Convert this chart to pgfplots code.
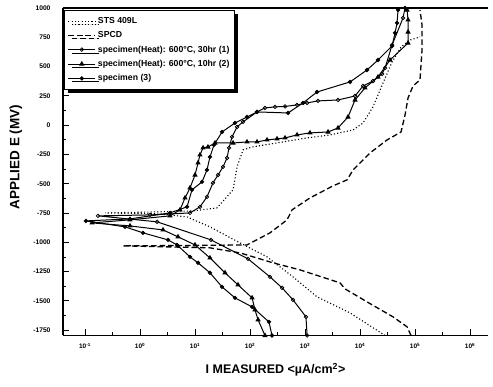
\documentclass[border=0pt]{standalone}
\usepackage{pgfplots}
\pgfplotsset{compat=1.18}
\usepackage{fontspec}
\setmainfont{Liberation Sans}
\usetikzlibrary{shadows}

\begin{document}
\begin{tikzpicture}
\begin{axis}[
  scale only axis, width=425pt, height=327.5pt,
  xmode=log, log basis x=10,
  xmin=0.0398, xmax=2.12e6, ymin=-1795, ymax=1000,
  axis x line=box, axis y line=left,
  axis line style={-, line width=1.3pt},
  tick align=inside, xtick pos=bottom, ytick pos=left,
  major tick length=6pt, minor tick length=3.5pt,
  tick style={black, line width=0.9pt},
  ytick={-1750,-1500,-1250,-1000,-750,-500,-250,0,250,500,750,1000},
  minor y tick num=1,
  xtick={0.1,1,10,100,1000,10000,100000,1000000},
  xticklabels={10\textsuperscript{-1},10\textsuperscript{0},10\textsuperscript{1},10\textsuperscript{2},10\textsuperscript{3},10\textsuperscript{4},10\textsuperscript{5},10\textsuperscript{6}},
  minor xtick={0.316,3.16,31.6,316,3162,31623,316228},
  /pgf/number format/assume math mode=true,
  /pgf/number format/set thousands separator={},
  yticklabel style={font=\fontsize{6.7}{7}\selectfont\bfseries, xshift=-9pt},
  xticklabel style={font=\fontsize{6.5}{7}\selectfont\bfseries, yshift=-4pt},
  xlabel={I MEASURED <µA/cm\textsuperscript{2}>},
  ylabel={APPLIED E (MV)},
  xlabel style={font=\fontsize{12.5}{14}\selectfont\bfseries, at={(axis description cs:0.5,-0.105)}, anchor=center},
  ylabel style={font=\fontsize{13.5}{15}\selectfont\bfseries, at={(axis description cs:-0.111,0.545)}, anchor=center},
  legend cell align=left,
  legend image code/.code={\draw[mark repeat=2,mark phase=2,#1] plot coordinates {(0pt,0pt) (13.5pt,0pt) (27pt,0pt)};},
  legend style={at={(axis description cs:0.003,0.994)}, anchor=north west, draw=black, line width=0.8pt, fill=white,
    font=\fontsize{8.7}{10}\selectfont\bfseries, inner xsep=3pt, inner ysep=5pt, row sep=2.6pt,
    general shadow={shadow xshift=3.5pt, shadow yshift=-3.5pt, fill=black}},
]
% STS 409L
\addplot[black, line width=1.1pt, dash pattern=on 1.1pt off 2.2pt] coordinates {
(2.85e4,-1795) (6.58e3,-1602) (1.65e3,-1465) (605,-1295) (204,-1124) (65.8,-1005)
(18.7,-868) (7.16,-783) (2.31,-757) (0.231,-749) (2.04,-740) (9.20,-732) (25.1,-706)
(49.1,-552) (58.1,-356) (74.6,-211) (109,-186) (398,-143) (1090,-109) (2850,-83)
(7460,-41) (1.135e4,19) (1.72e4,156) (2.62e4,360) (3.82e4,539) (5.56e4,667)
(8.11e4,727) (1.23e5,753)
};
\addlegendentry{STS 409L}
% SPCD
\addplot[black, line width=1.3pt, dash pattern=on 5.5pt off 3pt] coordinates {
(8.45e4,-1795) (7.16e4,-1721) (3.98e4,-1636) (1.34e4,-1508) (5330,-1397) (4330,-1346)
(811,-1235) (262,-1175) (65.8,-1090) (18.7,-1047) (0.491,-1030) (12.3,-1026)
(88.1,-1022) (231,-919) (471,-808) (581,-723) (1230,-621) (3230,-518) (5810,-467)
(7460,-382) (1.52e4,-237) (3.10e4,-126) (5.56e4,-58) (6.58e4,87) (7.46e4,232)
(9.20e4,335) (1.23e5,386) (1.34e5,642) (1.34e5,855) (1.23e5,983)
};
\addlegendentry{SPCD}
% specimen 1
\addplot[black, line width=1pt, mark=o, mark size=1.8pt, mark options={solid, fill=white, line width=0.7pt}] coordinates {
(1090,-1795) (1040,-1636) (605,-1491) (382,-1388) (231,-1295) (92.0,-1141) (19.5,-979)
(2.04,-825) (0.172,-774) (1.52,-766) (8.11,-749) (12.3,-697) (16.5,-612) (21.2,-493)
(26.2,-425) (32.3,-356) (38.2,-280) (41.5,-194) (47.1,-100) (58.1,-15) (74.6,28)
(134,113) (187,147) (285,156) (433,160) (716,173) (1090,190) (1720,207) (3980,215)
(8110,249) (1.135e4,335) (1.72e4,377) (2.51e4,437) (2.85e4,488) (3.82e4,684)
(6.05e4,915) (6.58e4,1000)
};
\addlegendentry{specimen(Heat): 600°C, 30hr (1)}
% specimen 2
\addplot[black, line width=1pt, mark=triangle*, mark size=2.1pt, mark options={solid}] coordinates {
(187,-1795) (140,-1661) (123,-1576) (109,-1474) (60.5,-1363) (35.1,-1260) (18.7,-1133)
(10,-1022) (4.91,-953) (2.62,-894) (0.658,-860) (0.134,-834) (0.658,-808) (3.51,-774)
(5.33,-723) (6.58,-621) (8.11,-535) (10,-425) (11.35,-322) (12.3,-254) (14.0,-194)
(17.2,-186) (23.1,-152) (49.1,-152) (88.1,-143) (134,-143) (204,-126) (310,-117)
(433,-109) (716,-83) (1230,-66) (2620,-58) (3980,-24) (6050,70) (8110,215)
(1.23e4,318) (2.12e4,411) (3.51e4,556) (7.46e4,701) (7.46e4,795) (7.46e4,898)
(7.16e4,983)
};
\addlegendentry{specimen(Heat): 600°C, 10hr (2)}
% specimen 3
\addplot[black, line width=1pt, mark=*, mark size=1.6pt] coordinates {
(251,-1795) (221,-1679) (109,-1551) (53.3,-1474) (31.0,-1380) (18.7,-1260) (11.35,-1175)
(8.11,-1124) (4.71,-1022) (3.23,-979) (1.135,-919) (0.533,-868) (0.104,-817)
(0.658,-800) (3.51,-749) (7.16,-697) (8.81,-552) (13.4,-484) (16.5,-382) (18.7,-271)
(22.1,-169) (31.0,-58) (53.3,19) (88.1,70) (134,113) (491,104) (920,190) (1650,283)
(6580,369) (1.34e4,471) (2.12e4,556) (3.82e4,676) (4.33e4,787) (4.71e4,872)
(4.91e4,983)
};
\addlegendentry{specimen (3)}
\end{axis}
\pgfresetboundingbox
\path ([xshift=-63pt,yshift=-51.5pt]current axis.south west) rectangle ([xshift=5pt,yshift=8pt]current axis.north east);
\end{tikzpicture}
\end{document}
